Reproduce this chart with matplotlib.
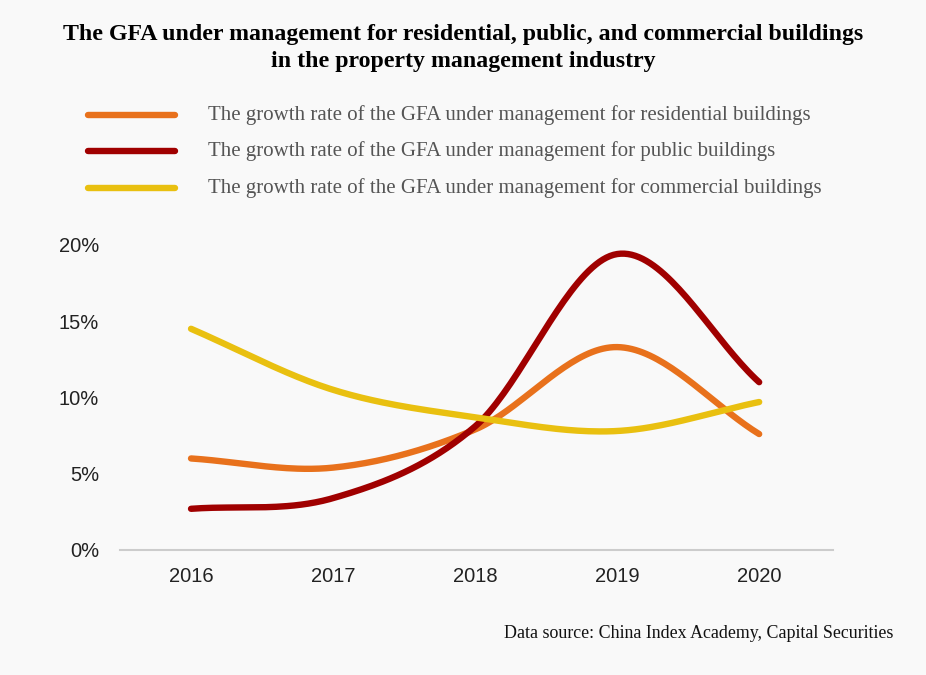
import numpy as np
import matplotlib
matplotlib.use("Agg")
import matplotlib.pyplot as plt

years = ["2016", "2017", "2018", "2019", "2020"]
residential = [6.0, 5.4, 7.9, 13.3, 7.6]
public = [2.7, 3.4, 8.1, 19.4, 11.0]
commercial = [14.5, 10.5, 8.7, 7.8, 9.7]
labels = [
    "The growth rate of the GFA under management for residential buildings",
    "The growth rate of the GFA under management for public buildings",
    "The growth rate of the GFA under management for commercial buildings",
]
colors = ["#E8711C", "#A00000", "#E9C010"]
yticks = [0, 5, 10, 15, 20]
title = ("The GFA under management for residential, public, and commercial buildings\n"
         "in the property management industry")
source = "Data source: China Index Academy, Capital Securities"


def smooth(xs, ys, n=40):
    # Catmull-Rom spline through the data points (rendering only)
    xs = np.asarray(xs, float)
    ys = np.asarray(ys, float)
    px = np.concatenate([[2 * xs[0] - xs[1]], xs, [2 * xs[-1] - xs[-2]]])
    py = np.concatenate([[2 * ys[0] - ys[1]], ys, [2 * ys[-1] - ys[-2]]])
    ox, oy = [], []
    for i in range(1, len(px) - 2):
        t = np.linspace(0, 1, n, endpoint=(i == len(px) - 3))
        for p, o in ((px, ox), (py, oy)):
            p0, p1, p2, p3 = p[i - 1], p[i], p[i + 1], p[i + 2]
            o.extend(0.5 * ((2 * p1) + (-p0 + p2) * t
                            + (2 * p0 - 5 * p1 + 4 * p2 - p3) * t ** 2
                            + (-p0 + 3 * p1 - 3 * p2 + p3) * t ** 3))
    return np.array(ox), np.array(oy)


bg = "#F9F9F9"
fig = plt.figure(figsize=(9.26, 6.75), dpi=100, facecolor=bg)
ax = fig.add_axes([0.1296, 0.1852, 0.77, 0.452], facecolor=bg)

x = np.arange(len(years))
series = [residential, public, commercial]
for s, c in zip(series, colors):
    sx, sy = smooth(x, s)
    ax.plot(sx, sy, color=c, lw=4.6, solid_capstyle="round", clip_on=False)

ax.set_xlim(-0.5, 4.52)
ax.set_ylim(0, 20)
ax.set_xticks(x)
ax.set_xticklabels(years, fontsize=14.5, color="#222222", family="Liberation Sans")
ax.set_yticks(yticks)
ax.set_yticklabels([f"{v}%" for v in yticks], fontsize=14.5, color="#222222",
                   family="Liberation Sans")
ax.tick_params(length=0)
ax.tick_params(axis="x", pad=12)
ax.tick_params(axis="y", pad=15)
for sp in ["top", "right", "left"]:
    ax.spines[sp].set_visible(False)
ax.spines["bottom"].set_color("#CCCCCC")
ax.spines["bottom"].set_linewidth(1.5)

fig.text(0.5, 0.965, title, ha="center", va="top", fontsize=17.2,
         fontweight="bold", family="Liberation Serif", linespacing=1.42)

legend_y = [115, 151, 188]
for lab, c, yy in zip(labels, colors, legend_y):
    yf = 1 - yy / 675
    fig.add_artist(plt.Line2D([88 / 926, 175 / 926], [yf, yf], color=c, lw=4.6,
                              solid_capstyle="round"))
    fig.text(208 / 926, yf, lab, ha="left", va="center", fontsize=15,
             color="#555555", family="Liberation Serif")

fig.text(893 / 926, 1 - 633 / 675, source, ha="right", va="center", fontsize=12.9,
         color="#111111", family="Liberation Serif")

fig.savefig("out.png", dpi=100, facecolor=bg)
